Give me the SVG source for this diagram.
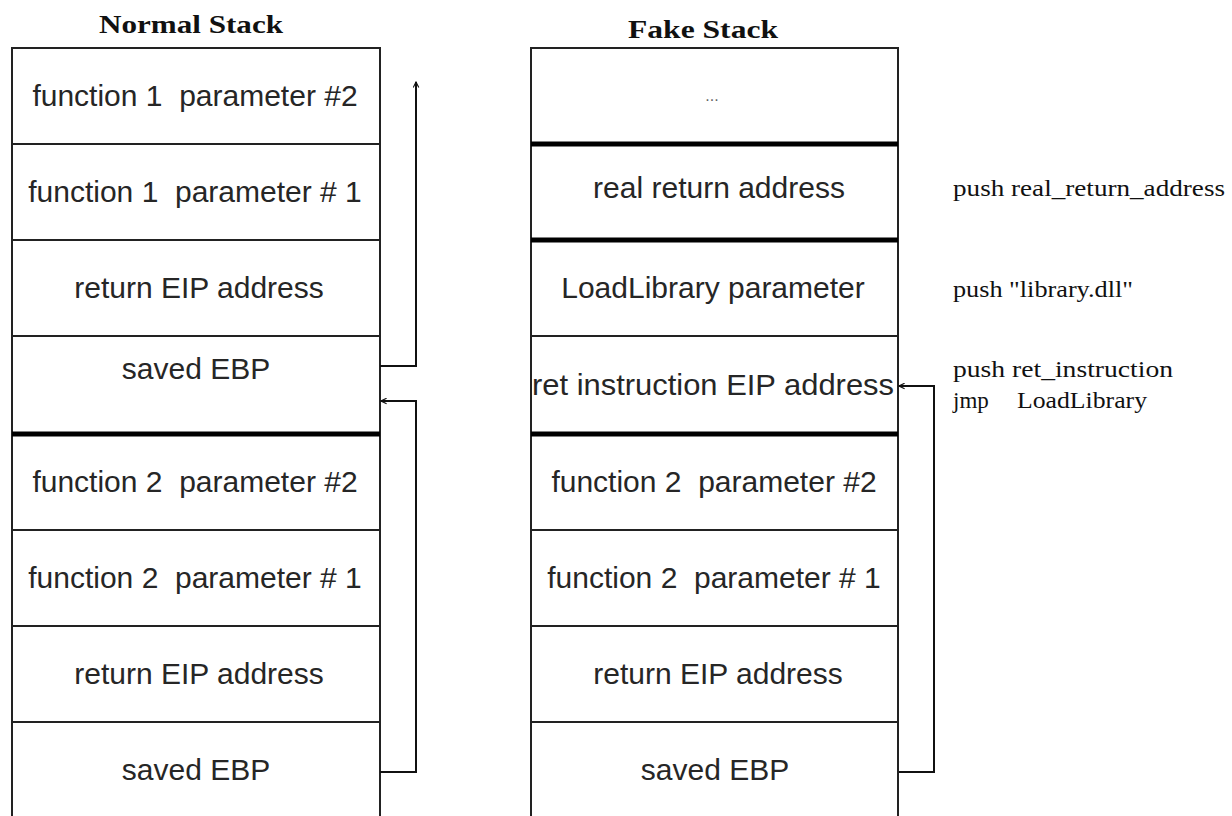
<svg xmlns="http://www.w3.org/2000/svg" width="1232" height="816" viewBox="0 0 1232 816">
  <style>
    .cell { fill: #ffffff; stroke: #222222; stroke-width: 2; }
    .sep { stroke: #000000; stroke-width: 5; }
    .lbl { font-family: "Liberation Sans", Arial, sans-serif; font-size: 30px; fill: #262626; text-anchor: middle; white-space: pre; }
    .title { font-family: "Liberation Serif", "Times New Roman", serif; font-size: 26px; font-weight: bold; fill: #111111; }
    .note { font-family: "Liberation Serif", "Times New Roman", serif; font-size: 23px; fill: #111111; white-space: pre; }
    .dots { font-family: "Liberation Sans", Arial, sans-serif; font-size: 16px; fill: #666666; text-anchor: middle; }
    .wire { fill: none; stroke: #111111; stroke-width: 2; }
  </style>
  <defs>
    <marker id="head" viewBox="0 0 10 10" refX="9" refY="5" markerWidth="7" markerHeight="7" markerUnits="userSpaceOnUse" orient="auto">
      <path d="M1,1 L9,5 L1,9" fill="none" stroke="#111111" stroke-width="1.6"/>
    </marker>
  </defs>

  <rect width="1232" height="816" fill="#ffffff"/>

  <!-- titles -->
  <text class="title" x="99" y="33" textLength="184" lengthAdjust="spacingAndGlyphs">Normal Stack</text>
  <text class="title" x="628" y="38" textLength="150" lengthAdjust="spacingAndGlyphs">Fake Stack</text>

  <!-- normal stack -->
  <g id="normal-f1p2"><rect class="cell" x="12" y="48" width="368" height="96"/><text class="lbl" x="195" y="106">function 1  parameter #2</text></g>
  <g id="normal-f1p1"><rect class="cell" x="12" y="144" width="368" height="96"/><text class="lbl" x="195" y="202">function 1  parameter # 1</text></g>
  <g id="normal-ret1"><rect class="cell" x="12" y="240" width="368" height="96"/><text class="lbl" x="199" y="298">return EIP address</text></g>
  <g id="normal-ebp1"><rect class="cell" x="12" y="336" width="368" height="98"/><text class="lbl" x="196" y="379">saved EBP</text></g>
  <g id="normal-f2p2"><rect class="cell" x="12" y="434" width="368" height="96"/><text class="lbl" x="195" y="492">function 2  parameter #2</text></g>
  <g id="normal-f2p1"><rect class="cell" x="12" y="530" width="368" height="96"/><text class="lbl" x="195" y="588">function 2  parameter # 1</text></g>
  <g id="normal-ret2"><rect class="cell" x="12" y="626" width="368" height="96"/><text class="lbl" x="199" y="684">return EIP address</text></g>
  <g id="normal-ebp2"><rect class="cell" x="12" y="722" width="368" height="110"/><text class="lbl" x="196" y="780">saved EBP</text></g>
  <line class="sep" x1="12" y1="434" x2="380" y2="434"/>

  <!-- fake stack -->
  <g id="fake-top"><rect class="cell" x="531" y="48" width="367" height="96"/><text class="dots" x="712" y="101">...</text></g>
  <g id="fake-real-ret"><rect class="cell" x="531" y="144" width="367" height="96"/><text class="lbl" x="719" y="198">real return address</text></g>
  <g id="fake-ll-param"><rect class="cell" x="531" y="240" width="367" height="96"/><text class="lbl" x="713" y="298">LoadLibrary parameter</text></g>
  <g id="fake-ret-instr"><rect class="cell" x="531" y="336" width="367" height="98"/><text class="lbl" x="713" y="395" textLength="362" lengthAdjust="spacingAndGlyphs">ret instruction EIP address</text></g>
  <g id="fake-f2p2"><rect class="cell" x="531" y="434" width="367" height="96"/><text class="lbl" x="714" y="492">function 2  parameter #2</text></g>
  <g id="fake-f2p1"><rect class="cell" x="531" y="530" width="367" height="96"/><text class="lbl" x="714" y="588">function 2  parameter # 1</text></g>
  <g id="fake-ret2"><rect class="cell" x="531" y="626" width="367" height="96"/><text class="lbl" x="718" y="684">return EIP address</text></g>
  <g id="fake-ebp2"><rect class="cell" x="531" y="722" width="367" height="110"/><text class="lbl" x="715" y="780">saved EBP</text></g>
  <line class="sep" x1="531" y1="144" x2="898" y2="144"/>
  <line class="sep" x1="531" y1="240" x2="898" y2="240"/>
  <line class="sep" x1="531" y1="434" x2="898" y2="434"/>

  <!-- instruction notes -->
  <g id="notes">
    <text class="note" x="953" y="196" textLength="272" lengthAdjust="spacingAndGlyphs">push real_return_address</text>
    <text class="note" x="953" y="297" textLength="180" lengthAdjust="spacingAndGlyphs">push "library.dll"</text>
    <text class="note" x="953" y="377" textLength="220" lengthAdjust="spacingAndGlyphs">push ret_instruction</text>
    <text class="note" x="953" y="408">jmp</text>
    <text class="note" x="1017" y="408" textLength="130" lengthAdjust="spacingAndGlyphs">LoadLibrary</text>
  </g>

  <!-- connectors -->
  <g id="connectors">
    <path class="wire" d="M380,366 H416 V82" marker-end="url(#head)"/>
    <path class="wire" d="M380,772 H416 V401 H381" marker-end="url(#head)"/>
    <path class="wire" d="M899,772 H934 V386 H899" marker-end="url(#head)"/>
  </g>
</svg>
